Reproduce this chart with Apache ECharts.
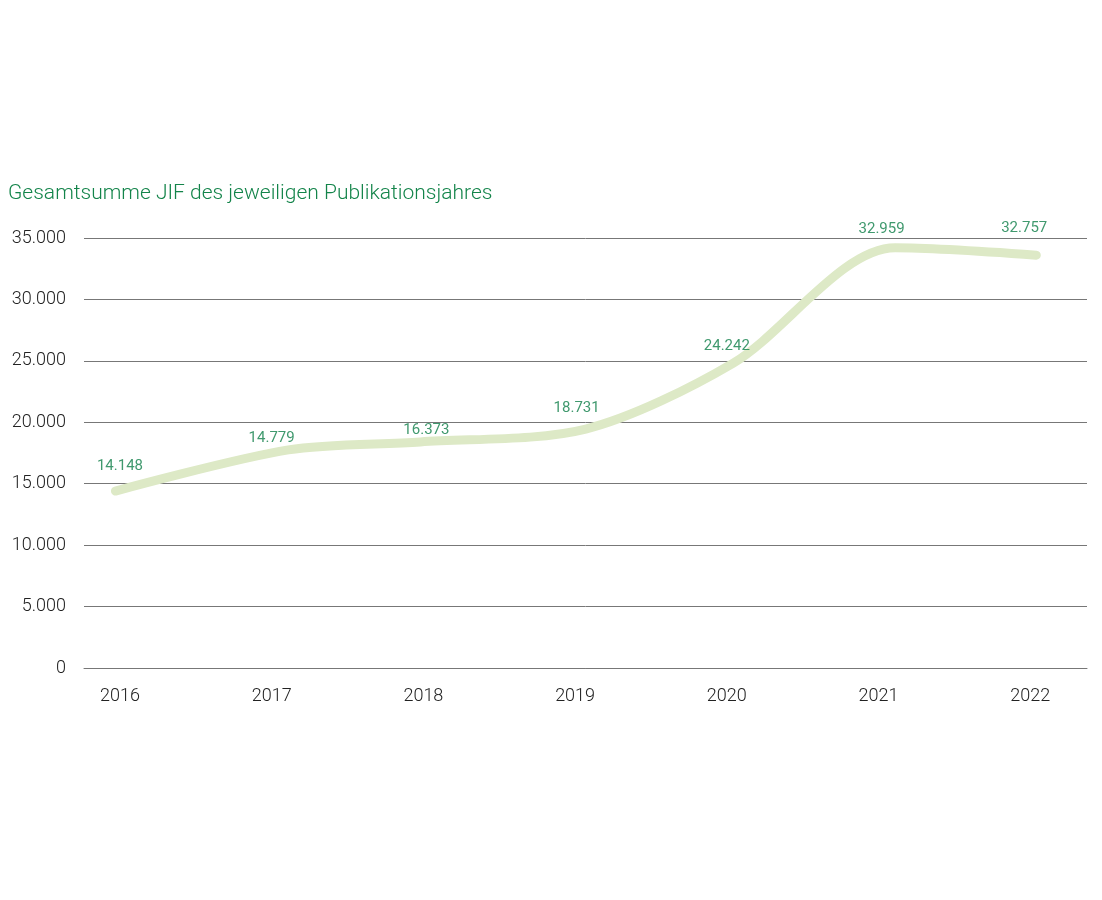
<!DOCTYPE html>
<html>
<head>
<meta charset="utf-8">
<script src="https://cdn.jsdelivr.net/npm/echarts@6/dist/echarts.min.js"></script>
<style>
  html, body { margin: 0; padding: 0; background: #fff; }
  #chart { width: 1102px; height: 900px; }
</style>
</head>
<body>
<div id="chart"></div>
<script>
// Jahre (Achsenbeschriftung)
const years = [2016, 2017, 2018, 2019, 2020, 2021, 2022];
// Werte der Beschriftungen
const labelTexts = ['14.148', '14.779', '16.373', '18.731', '24.242', '32.959', '32.757'];
// Lage der Beschriftungen (Jahr, Wert), aus dem Bild gelesen
const labelX = [2016, 2017, 2018.02, 2019.01, 2020, 2021.02, 2021.96];
const labelY = [16440, 18720, 19370, 21160, 26210, 35730, 35810];
// Verlauf der Linie (Jahr, Wert), aus dem Bild gelesen
const lineX = [2015.97, 2017.11, 2017.98, 2019.07, 2020.04, 2021.11, 2022.04];
const lineY = [14400, 17750, 18400, 19450, 24800, 34200, 33600];
const yTicks = [0, 5000, 10000, 15000, 20000, 25000, 30000, 35000];

function fmt(v) {
    return String(v).replace(/\B(?=(\d{3})+(?!\d))/g, '.');
}

const myChart = echarts.init(document.getElementById('chart'));

const option = {
    backgroundColor: '#fff',
    animation: false,
    title: {
        text: 'Gesamtsumme JIF des jeweiligen Publikationsjahres',
        left: 8,
        top: 183,
        padding: 0,
        textStyle: {
            color: '#13844a',
            fontFamily: 'Roboto',
            fontWeight: 300,
            fontSize: 21
        }
    },
    grid: {
        left: 84,
        right: 15,
        top: 238,
        bottom: 232
    },
    xAxis: {
        type: 'value',
        min: 2015.763,
        max: 2022.374,
        splitLine: { show: false },
        axisTick: { show: false },
        axisLine: {
            show: true,
            lineStyle: { color: '#777', width: 1 }
        },
        axisLabel: {
            customValues: years,
            formatter: v => String(Math.round(v)),
            color: '#222',
            fontFamily: 'Roboto',
            fontWeight: 300,
            fontSize: 18,
            margin: 19
        }
    },
    yAxis: {
        type: 'value',
        min: yTicks[0],
        max: yTicks[yTicks.length - 1],
        interval: 5000,
        axisLine: { show: false },
        axisTick: { show: false },
        splitLine: {
            lineStyle: { color: '#777', width: 1 }
        },
        axisLabel: {
            formatter: v => fmt(v),
            color: '#222',
            fontFamily: 'Roboto',
            fontWeight: 300,
            fontSize: 18,
            margin: 18
        }
    },
    series: [
        {
            type: 'line',
            data: lineX.map((x, i) => [x, lineY[i]]),
            smooth: 0.3,
            showSymbol: false,
            symbol: 'none',
            lineStyle: {
                color: '#dde9c6',
                width: 9,
                cap: 'round',
                join: 'round'
            },
            z: 2
        },
        {
            type: 'scatter',
            clip: false,
            symbolSize: 1,
            itemStyle: { color: 'rgba(0,0,0,0)' },
            data: labelX.map((x, i) => ({ value: [x, labelY[i]], name: labelTexts[i] })),
            label: {
                show: true,
                position: 'inside',
                formatter: p => p.name,
                color: '#10804a',
                fontFamily: 'Roboto',
                fontSize: 15
            },
            z: 3
        }
    ]
};

myChart.setOption(option);

window.addEventListener('resize', () => {
    myChart.resize();
});
</script>
</body>
</html>
